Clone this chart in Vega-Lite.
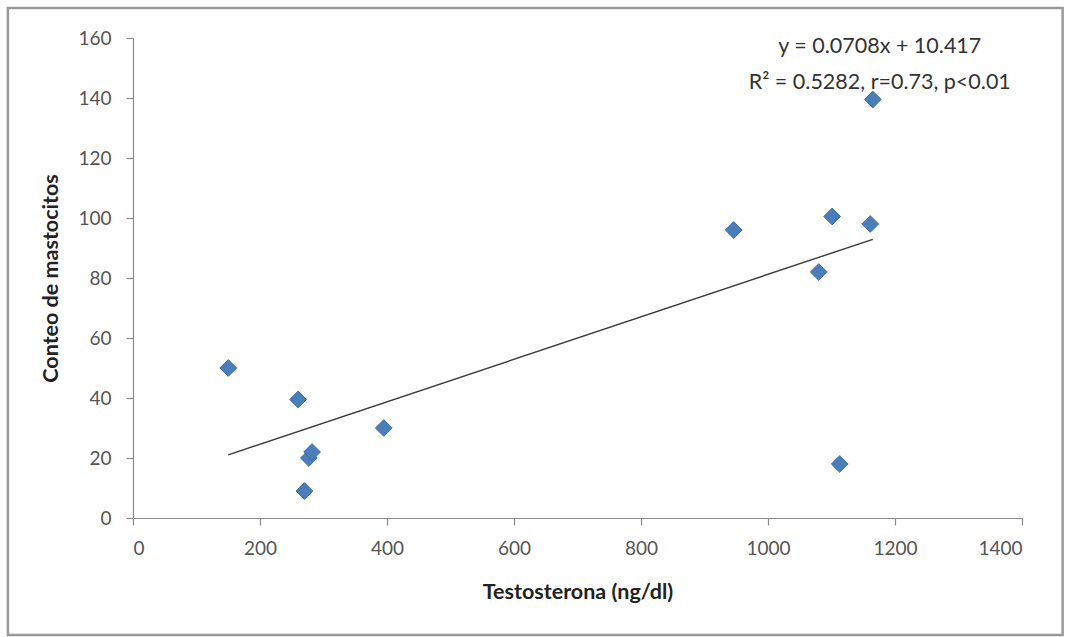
{
  "$schema": "https://vega.github.io/schema/vega-lite/v6.json",
  "autosize": {"type": "none"},
  "width": 889,
  "height": 480,
  "padding": {"left": 133, "top": 38, "right": 46, "bottom": 119},
  "background": "#ffffff",
  "config": {
    "view": {"stroke": null},
    "font": "Lato",
    "axis": {
      "grid": false,
      "domainColor": "#8c8c8c",
      "domainWidth": 1.2,
      "tickColor": "#8c8c8c",
      "tickSize": 7,
      "tickWidth": 1.2,
      "labelFont": "Lato",
      "labelFontSize": 19,
      "labelColor": "#555555",
      "titleFont": "Lato",
      "titleFontSize": 21.5,
      "titleFontWeight": "bold",
      "titleColor": "#222222"
    }
  },
  "datasets": {
    "muestras": [
      {"testosterona": 150, "mastocitos": 50},
      {"testosterona": 260, "mastocitos": 39.5},
      {"testosterona": 277, "mastocitos": 20},
      {"testosterona": 282, "mastocitos": 22},
      {"testosterona": 270, "mastocitos": 9},
      {"testosterona": 395, "mastocitos": 30},
      {"testosterona": 946, "mastocitos": 96},
      {"testosterona": 1080, "mastocitos": 82},
      {"testosterona": 1101, "mastocitos": 100.5},
      {"testosterona": 1113, "mastocitos": 18},
      {"testosterona": 1161, "mastocitos": 98},
      {"testosterona": 1165, "mastocitos": 139.5}
    ],
    "tendencia": [
      {"testosterona": 150, "mastocitos": 21.04},
      {"testosterona": 1165, "mastocitos": 92.90}
    ],
    "ecuacion": [
      {"testosterona": 1176, "mastocitos": 157, "texto": "y = 0.0708x + 10.417"},
      {"testosterona": 1176, "mastocitos": 145, "texto": "R² = 0.5282, r=0.73, p<0.01"}
    ],
    "marco": [
      {"x0": -197, "x1": 1464, "y0": -39, "y1": 170}
    ]
  },
  "layer": [
    {
      "data": {"name": "marco"},
      "mark": {"type": "rect", "fill": null, "stroke": "#9a9a9a", "strokeWidth": 2.5},
      "encoding": {
        "x": {"field": "x0", "type": "quantitative", "scale": {"domain": [0, 1400], "nice": false, "zero": false}},
        "x2": {"field": "x1"},
        "y": {"field": "y0", "type": "quantitative", "scale": {"domain": [0, 160], "nice": false, "zero": false}},
        "y2": {"field": "y1"}
      }
    },
    {
      "data": {"name": "tendencia"},
      "mark": {"type": "line", "color": "#3a3a3a", "strokeWidth": 1.4},
      "encoding": {
        "x": {"field": "testosterona", "type": "quantitative"},
        "y": {"field": "mastocitos", "type": "quantitative"}
      }
    },
    {
      "data": {"name": "muestras"},
      "mark": {"type": "point", "shape": "diamond", "filled": true, "size": 280, "color": "#4a7ebb", "stroke": "#3b68a3", "strokeWidth": 1, "opacity": 1},
      "encoding": {
        "x": {
          "field": "testosterona", "type": "quantitative",
          "title": "Testosterona (ng/dl)",
          "axis": {"values": [0, 200, 400, 600, 800, 1000, 1200, 1400], "format": "d", "labelPadding": 14, "titlePadding": 23}
        },
        "y": {
          "field": "mastocitos", "type": "quantitative",
          "title": "Conteo de mastocitos",
          "axis": {"values": [0, 20, 40, 60, 80, 100, 120, 140, 160], "format": "d", "labelPadding": 15, "titlePadding": 15}
        }
      }
    },
    {
      "data": {"name": "ecuacion"},
      "mark": {"type": "text", "font": "Lato", "fontSize": 21.5, "color": "#333333", "align": "center", "baseline": "middle"},
      "encoding": {
        "x": {"field": "testosterona", "type": "quantitative"},
        "y": {"field": "mastocitos", "type": "quantitative"},
        "text": {"field": "texto"}
      }
    }
  ]
}
